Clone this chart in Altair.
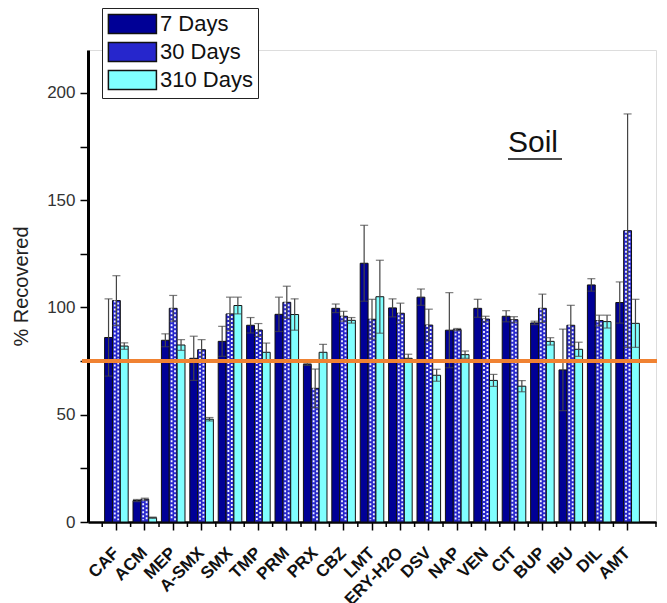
import altair as alt
import pandas as pd

categories = ["CAF", "ACM", "MEP", "A-SMX", "SMX", "TMP", "PRM", "PRX", "CBZ", "LMT",
              "ERY-H2O", "DSV", "NAP", "VEN", "CIT", "BUP", "IBU", "DIL", "AMT"]
series = ["7 Days", "30 Days", "310 Days"]

d7 = [86, 10, 84.7, 76.3, 84.2, 91.7, 96.8, 73.5, 99.6, 120.6, 99.8, 104.8, 89.4, 99.6, 95.9, 92.8, 70.9, 110.5, 102.3]
e7 = [18, 0.5, 3, 10.3, 7, 3.6, 8, 0.5, 2, 17.7, 4.2, 3.8, 17.5, 4.2, 2.6, 0.8, 19, 2.9, 9.6]
d30 = [103.2, 10.6, 99.6, 80.3, 97, 89.5, 102.4, 62.3, 95.9, 94.5, 97.3, 91.8, 89.7, 94.6, 94.3, 99.6, 91.7, 93.9, 135.8]
e30 = [11.6, 0.5, 6, 4.7, 7.8, 3, 7.5, 9, 2.3, 9.3, 4.7, 7.4, 0.5, 1.3, 1.4, 6.6, 9.3, 2.5, 54.4]
d310 = [82, 2, 82.5, 47.9, 100.9, 79.1, 96.7, 79.1, 94, 105, 76.3, 68.4, 78, 66, 63.3, 84.2, 80.5, 93.4, 92.6]
e310 = [1.5, 0.3, 2.5, 0.8, 3.9, 4.3, 7.3, 3.7, 1.3, 17, 1.9, 2.8, 1.7, 2.8, 2.6, 1.7, 3.3, 3, 11.2]

threshold = 75

rows = []
for vals, errs, s in [(d7, e7, series[0]), (d30, e30, series[1]), (d310, e310, series[2])]:
    for c, v, e in zip(categories, vals, errs):
        rows.append({"cat": c, "series": s, "value": v, "lo": v - e, "hi": v + e})
df = pd.DataFrame(rows)
df30 = pd.DataFrame({"cat": categories, "value": d30})
cats_df = pd.DataFrame({"cat": categories})

W, H = 568, 472

xenc = alt.X("cat:N", sort=categories, title=None,
             scale=alt.Scale(paddingInner=0.17, paddingOuter=0.585),
             axis=alt.Axis(labelAngle=-45, labelAlign="right", labelBaseline="middle",
                           labelFont="Liberation Sans", labelFontWeight="bold", labelFontSize=17,
                           labelColor="#111", labelPadding=20, tickSize=8, tickColor="black",
                           tickWidth=1.5, domainColor="black", domainWidth=2.5, labelOverlap=False))
xoff = alt.XOffset("series:N", sort=series, scale=alt.Scale(paddingInner=0, paddingOuter=0))
yenc = alt.Y("value:Q", title="% Recovered",
             scale=alt.Scale(domain=[0, 220], nice=False, zero=True),
             axis=alt.Axis(values=[0, 25, 50, 75, 100, 125, 150, 175, 200],
                           labelExpr="datum.value % 50 == 0 ? datum.label : ''",
                           grid=False, tickSize=8, tickColor="black", tickWidth=1.5,
                           domainColor="black", domainWidth=3, labelFont="Liberation Sans",
                           labelFontSize=17, labelColor="#333", labelPadding=5,
                           titleFont="Liberation Sans", titleFontSize=20, titleFontWeight="normal",
                           titleColor="#222", titlePadding=15))

bars = alt.Chart(df).mark_bar(stroke="#111", strokeWidth=1).encode(
    x=xenc, xOffset=xoff, y=yenc,
    color=alt.Color("series:N", sort=series,
                    scale=alt.Scale(domain=series, range=["#000096", "#2626cc", "#80ffff"]),
                    legend=alt.Legend(title=None, orient="none", legendX=14, legendY=-42,
                                      strokeColor="#222", fillColor="white", padding=5,
                                      symbolType="M-1,-1H4V1H-1Z", symbolSize=369,
                                      symbolStrokeColor="#111", symbolStrokeWidth=1.5,
                                      symbolOpacity=1,
                                      labelFont="Liberation Sans", labelFontSize=22,
                                      labelColor="#111", rowPadding=2, labelOffset=31))
)

# checkered dot texture of the 30-day bars (two offset dotted columns)
dots_a = alt.Chart(df30).mark_rule(color="#f2f2ff", strokeWidth=1.8, strokeDash=[2, 2],
                                   xOffset=-1.6).encode(
    x=alt.X("cat:N", sort=categories), y=alt.Y("value:Q"), y2=alt.datum(0.8)
)
dots_b = alt.Chart(df30).mark_rule(color="#f2f2ff", strokeWidth=1.8, strokeDash=[2, 2],
                                   strokeDashOffset=2, xOffset=1.8).encode(
    x=alt.X("cat:N", sort=categories), y=alt.Y("value:Q"), y2=alt.datum(0.8)
)

err = alt.Chart(df).mark_rule(color="#444", strokeWidth=1.2).encode(
    x=alt.X("cat:N", sort=categories), xOffset=xoff,
    y=alt.Y("lo:Q"), y2="hi:Q"
)
cap_hi = alt.Chart(df).mark_tick(color="#444", thickness=1.2, size=8).encode(
    x=alt.X("cat:N", sort=categories), xOffset=xoff, y=alt.Y("hi:Q")
)
cap_lo = alt.Chart(df).mark_tick(color="#444", thickness=1.2, size=8).encode(
    x=alt.X("cat:N", sort=categories), xOffset=xoff, y=alt.Y("lo:Q")
)

minor = alt.Chart(cats_df).mark_rule(color="black", strokeWidth=1.5, xOffset=-2.4).encode(
    x=alt.X("cat:N", sort=categories, bandPosition=0),
    y=alt.value(H), y2=alt.value(H + 5)
)
end_tick = alt.Chart(cats_df.head(1)).mark_rule(color="black", strokeWidth=1.5).encode(
    x=alt.value(W), y=alt.value(H), y2=alt.value(H + 5)
)

line = alt.Chart(pd.DataFrame({"t": [threshold]})).mark_rule(
    color="#f08232", strokeWidth=4).encode(
    y=alt.Y("t:Q"), x=alt.value(-6), x2=alt.value(W + 1)
)

soil = alt.Chart(pd.DataFrame({"t": ["Soil"]})).mark_text(
    align="left", baseline="alphabetic", fontSize=30, font="Liberation Sans", color="#111"
).encode(text="t:N", x=alt.value(420), y=alt.value(102))
underline = alt.Chart(pd.DataFrame({"t": ["Soil"]})).mark_rule(
    color="#111", strokeWidth=1.5).encode(
    x=alt.value(420), x2=alt.value(474), y=alt.value(109)
)

chart = alt.layer(bars, dots_a, dots_b, err, cap_hi, cap_lo, minor, end_tick, line, soil,
                  underline).properties(
    width=W, height=H,
    autosize=alt.AutoSizeParams(type="none"),
    padding={"left": 80, "top": 42, "right": 3, "bottom": 85}
).configure_view(stroke=None).configure(background="white")

chart.save("out.html", embed_options={"renderer": "svg", "actions": False})
